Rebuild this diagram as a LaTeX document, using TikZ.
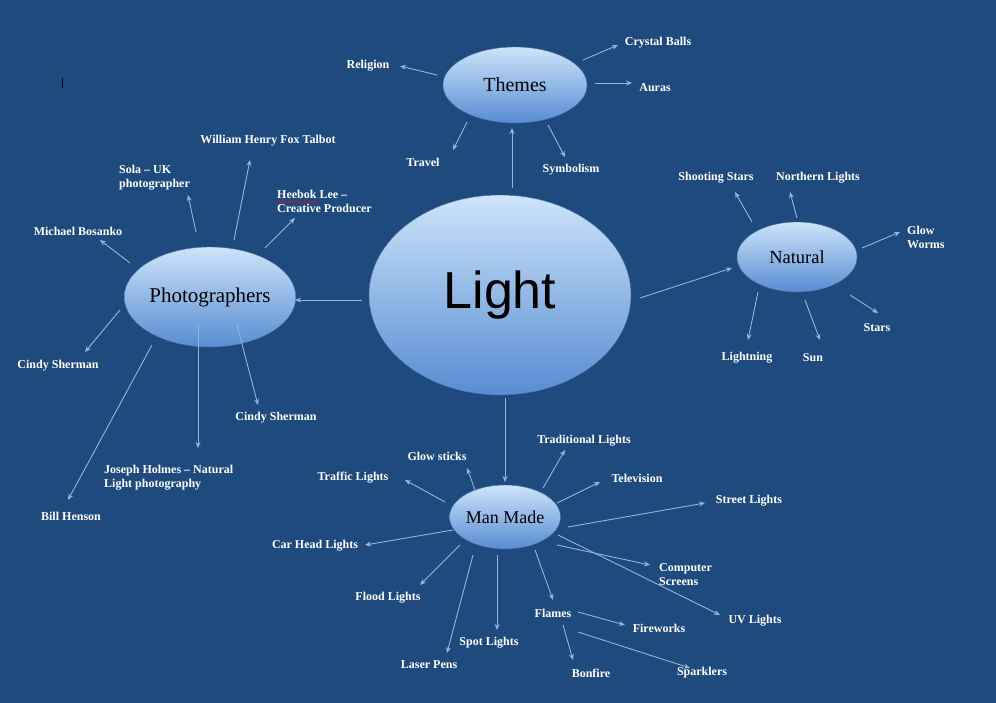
\documentclass[tikz,border=0pt]{standalone}
\usepackage{fontspec}
\setmainfont{Liberation Serif}
\newfontfamily\sansf{Liberation Sans}
\usetikzlibrary{arrows.meta,shapes.geometric,decorations.pathmorphing}
\definecolor{bg}{RGB}{31,74,126}
\definecolor{arr}{RGB}{150,180,220}
\definecolor{etop}{RGB}{205,228,250}
\definecolor{ebot}{RGB}{88,140,210}
\begin{document}
\begin{tikzpicture}[x=1pt,y=-1pt,
 ell/.style={ellipse,top color=etop,bottom color=ebot,draw=ebot!80!black,line width=0.4pt,text=black,inner sep=0pt},
 lab/.style={text=white,font=\fontsize{12}{14}\selectfont\bfseries,inner sep=1pt},
 labl/.style={lab,align=left},
 ar/.style={draw=arr,line width=0.9pt,-{Stealth[length=6pt,width=5pt]}}]
\fill[bg] (0,0) rectangle (996,703);
\draw[black,line width=0.6pt] (62,78) -- (62,88);
\node[ell,minimum width=262,minimum height=200] (light) at (500,295) {\sansf\fontsize{52}{54}\selectfont Light};
\node[ell,minimum width=144,minimum height=76] (themes) at (515,85) {\fontsize{20}{22}\selectfont Themes};
\node[ell,minimum width=164,minimum height=100] (phot) at (210,297) {\fontsize{21}{23}\selectfont Photographers};
\node[ell,minimum width=120,minimum height=70] (nat) at (797,257) {\fontsize{18.5}{20}\selectfont Natural};
\node[ell,minimum width=110,minimum height=64] (man) at (505,517) {\fontsize{18}{20}\selectfont Man Made};
% main arrows
\draw[ar] (512,188) -- (512,128);
\draw[ar] (362,300) -- (295,300);
\draw[ar] (640,298) -- (732,268);
\draw[ar] (505,398) -- (505,482);
% themes
\node[lab] (rel) at (368,66) {Religion};
\node[lab] (cb) at (658,43) {Crystal Balls};
\node[lab] (au) at (655,88) {Auras};
\node[lab] (tr) at (423,162) {Travel};
\node[lab] (sy) at (571,170) {Symbolism};
\draw[ar] (437,75) -- (400,66);
\draw[ar] (583,60) -- (618,45);
\draw[ar] (595,83) -- (632,83);
\draw[ar] (467,122) -- (453,150);
\draw[ar] (548,125) -- (565,157);
% photographers
\node[lab] (wt) at (268,141) {William Henry Fox Talbot};
\node[labl,anchor=west] (so) at (118,178) {Sola – UK\\photographer};
\node[labl,anchor=west] (he) at (276,201) {Heebok Lee –\\Creative Producer};
\draw[red,decorate,decoration={snake,amplitude=0.6pt,segment length=3pt},line width=0.4pt] (278,202) -- (320,202);
\node[lab] (mb) at (78,231) {Michael Bosanko};
\node[lab] (cs1) at (58,366) {Cindy Sherman};
\node[lab] (cs2) at (276,418) {Cindy Sherman};
\node[labl,anchor=west] (jh) at (103,478) {Joseph Holmes – Natural\\Light photography};
\node[lab] (bh) at (71,516) {Bill Henson};
\draw[ar] (130,263) -- (100,240);
\draw[ar] (196,232) -- (188,195);
\draw[ar] (234,240) -- (250,160);
\draw[ar] (265,248) -- (295,218);
\draw[ar] (120,310) -- (85,352);
\draw[ar] (237,325) -- (258,405);
\draw[ar] (198,325) -- (198,448);
\draw[ar] (152,345) -- (68,500);
% natural
\node[lab] (ss) at (716,178) {Shooting Stars};
\node[lab] (nl) at (818,178) {Northern Lights};
\node[labl,anchor=west] (gw) at (906,237) {Glow\\Worms};
\node[lab] (st) at (877,328) {Stars};
\node[lab] (li) at (747,358) {Lightning};
\node[lab] (su) at (813,358) {Sun};
\draw[ar] (752,222) -- (735,192);
\draw[ar] (797,218) -- (790,192);
\draw[ar] (862,248) -- (900,232);
\draw[ar] (850,295) -- (878,313);
\draw[ar] (758,292) -- (748,340);
\draw[ar] (805,300) -- (820,340);
% man made
\node[lab] (gs) at (437,456) {Glow sticks};
\node[lab] (tl) at (584,441) {Traditional Lights};
\node[lab] (tv) at (637,478) {Television};
\node[lab] (sl) at (749,501) {Street Lights};
\node[lab] (trl) at (353,478) {Traffic Lights};
\node[lab] (ch) at (315,546) {Car Head Lights};
\node[lab] (fl) at (388,598) {Flood Lights};
\node[lab] (lp) at (429,665) {Laser Pens};
\node[lab] (sp) at (489,643) {Spot Lights};
\node[lab] (fm) at (553,613) {Flames};
\node[labl,anchor=west] (cs) at (658,575) {Computer\\Screens};
\node[lab] (uv) at (755,621) {UV Lights};
\node[lab] (fw) at (659,628) {Fireworks};
\node[lab] (bf) at (591,673) {Bonfire};
\node[lab] (sk) at (702,673) {Sparklers};
\draw[ar] (475,490) -- (467,468);
\draw[ar] (543,488) -- (565,450);
\draw[ar] (557,503) -- (600,482);
\draw[ar] (568,527) -- (705,503);
\draw[ar] (445,502) -- (405,480);
\draw[ar] (453,530) -- (365,545);
\draw[ar] (460,545) -- (420,585);
\draw[ar] (473,555) -- (447,653);
\draw[ar] (497,555) -- (497,630);
\draw[ar] (535,550) -- (553,600);
\draw[ar] (557,545) -- (650,565);
\draw[ar] (558,535) -- (720,615);
\draw[ar] (578,612) -- (625,625);
\draw[ar] (563,625) -- (573,660);
\draw[ar] (578,632) -- (690,668);
\end{tikzpicture}
\end{document}
